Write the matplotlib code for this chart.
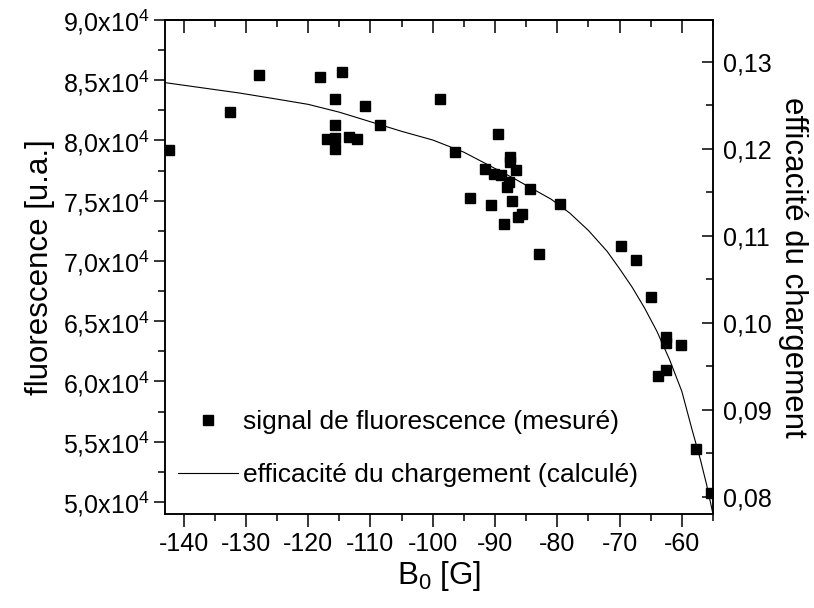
import numpy as np
import matplotlib
matplotlib.use("Agg")
import matplotlib.pyplot as plt
from matplotlib.ticker import MultipleLocator, FuncFormatter

plt.rcParams['font.family'] = ['Liberation Sans', 'DejaVu Sans']
plt.rcParams['mathtext.fontset'] = 'custom'
plt.rcParams['mathtext.rm'] = 'Liberation Sans'
plt.rcParams['mathtext.it'] = 'Liberation Sans:italic'

# signal de fluorescence mesuré
b0_mesure = [-142.3, -132.6, -127.9, -118.1, -114.6, -115.7, -110.9, -115.7,
             -117.0, -115.7, -113.4, -112.2, -115.7, -108.5, -98.8, -96.5,
             -91.6, -94.0, -89.6, -87.6, -87.6, -86.7, -90.1, -89.0,
             -87.7, -88.1, -84.4, -90.6, -87.2, -85.7, -86.3, -88.6,
             -79.5, -82.9, -69.8, -67.4, -65.0, -62.5, -62.5, -60.1,
             -63.8, -62.5, -57.8, -55.3]
fluo_mesure = [79210, 82390, 85435, 85300, 85660, 83440, 82860, 81280,
               80120, 80230, 80265, 80150, 79290, 81310, 83440, 79020,
               77630, 75230, 80540, 78650, 78190, 77550, 77220, 77140,
               76580, 76170, 75970, 74650, 75000, 73900, 73620, 73040,
               74700, 70580, 71270, 70060, 66990, 63720, 63170, 63030,
               60450, 60950, 54370, 50720]

# efficacité du chargement calculée
b0_calcul = [-143, -137, -131, -125, -120, -115, -110, -105, -100, -95,
             -91, -87, -84, -81, -78, -75, -72, -70, -68, -66,
             -64, -62, -60, -58.4, -57, -56, -55]
eff_calcul = [0.1276, 0.1270, 0.1264, 0.1257, 0.1251, 0.1242, 0.1231, 0.1220,
              0.1210, 0.1196, 0.1181, 0.1166, 0.1154, 0.1142, 0.1126, 0.1106,
              0.1082, 0.1062, 0.1041, 0.1017, 0.0990, 0.0958, 0.0921, 0.0878,
              0.0842, 0.0813, 0.0780]

fig = plt.figure(figsize=(8.14, 6.08), dpi=100)
ax = fig.add_axes([0.2027, 0.1546, 0.6732, 0.8125])
ax2 = ax.twinx()

pts, = ax.plot(b0_mesure, fluo_mesure, 's', color='black', markersize=7.4,
               label='signal de fluorescence (mesuré)', zorder=3)
courbe, = ax2.plot(b0_calcul, eff_calcul, '-', color='black', linewidth=0.8,
                   label='efficacité du chargement (calculé)')

ax.set_xlim(-143, -55)
ax.set_ylim(49000, 90000)
ax2.set_ylim(0.078, 0.1348)

ax.xaxis.set_major_locator(MultipleLocator(10))
ax.xaxis.set_minor_locator(MultipleLocator(5))
ax.yaxis.set_major_locator(MultipleLocator(5000))
ax.yaxis.set_minor_locator(MultipleLocator(2500))
ax2.yaxis.set_major_locator(MultipleLocator(0.01))
ax2.yaxis.set_minor_locator(MultipleLocator(0.005))


def fmt_fluo(v, pos):
    s = f"{v / 1e4:.1f}".replace('.', '{,}')
    return r'$\mathregular{' + s + r'x10^{4}}$'


ax.yaxis.set_major_formatter(FuncFormatter(fmt_fluo))
ax2.yaxis.set_major_formatter(FuncFormatter(lambda v, p: f"{v:.2f}".replace('.', ',')))
ax.xaxis.set_major_formatter(FuncFormatter(lambda v, p: f"{v:.0f}"))

lw = 1.1
ax.tick_params(axis='x', which='both', direction='out', labelsize=18, pad=4)
ax.tick_params(axis='x', which='major', length=9, width=lw)
ax.tick_params(axis='x', which='minor', length=5, width=lw)
ax.tick_params(axis='y', which='both', direction='out', labelsize=18, pad=3)
ax.tick_params(axis='y', which='major', length=8, width=lw)
ax.tick_params(axis='y', which='minor', length=5, width=lw)
ax2.tick_params(axis='y', which='both', direction='in', labelsize=18, pad=7)
ax2.tick_params(axis='y', which='major', length=8, width=lw)
ax2.tick_params(axis='y', which='minor', length=5, width=lw)

# ticks du haut, vers l'intérieur
top = ax.secondary_xaxis('top')
top.xaxis.set_major_locator(MultipleLocator(10))
top.xaxis.set_minor_locator(MultipleLocator(5))
top.tick_params(which='both', direction='in', labeltop=False, width=lw)
top.tick_params(which='major', length=9)
top.tick_params(which='minor', length=5)

for a in (ax, ax2, top):
    for sp in a.spines.values():
        sp.set_linewidth(lw)

ax.set_xlabel(r'B$_\mathregular{0}$ [G]', fontsize=22.5, labelpad=2)
ax.set_ylabel('fluorescence [u.a.]', fontsize=22.5, labelpad=6)
ax2.set_ylabel('efficacité du chargement', fontsize=22.5, rotation=270, labelpad=26)

ax.legend(handles=[pts, courbe], loc='lower left', bbox_to_anchor=(0.0237, 0.055),
          frameon=False, fontsize=19, handlelength=2.27, labelspacing=1.1,
          handletextpad=0.2, borderaxespad=0, borderpad=0)

fig.savefig('out.png', dpi=100)
